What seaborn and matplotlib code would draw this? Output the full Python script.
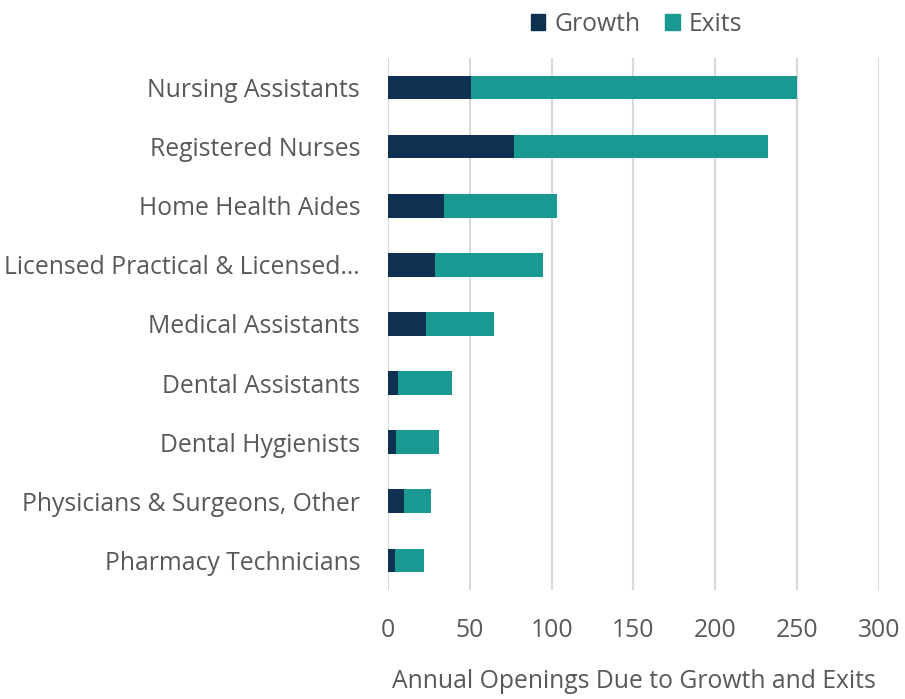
import pandas as pd
import seaborn as sns
import matplotlib.pyplot as plt
from matplotlib.patches import Patch

occupations = [
    "Nursing Assistants",
    "Registered Nurses",
    "Home Health Aides",
    "Licensed Practical & Licensed…",
    "Medical Assistants",
    "Dental Assistants",
    "Dental Hygienists",
    "Physicians & Surgeons, Other",
    "Pharmacy Technicians",
]
growth = [51, 77, 34, 29, 23, 6, 5, 10, 4]
exits = [199, 155, 69, 66, 42, 33, 26, 16, 18]

df = pd.DataFrame({"occupation": occupations, "growth": growth, "exits": exits})
df["total"] = df["growth"] + df["exits"]

c_growth = "#0E3151"
c_exits = "#1A9892"
txt = "#595959"
fs = 17.8

sns.set_style("white")
plt.rcParams["font.family"] = ["Open Sans", "DejaVu Sans"]

fig = plt.figure(figsize=(9.05, 6.99), dpi=100)
ax = fig.add_axes([0.4287, 0.156, 0.5425, 0.761])

# stacked: draw totals (exits colour) then growth on top
sns.barplot(data=df, y="occupation", x="total", color=c_exits, width=0.4,
            orient="h", ax=ax, saturation=1, zorder=3, linewidth=0)
sns.barplot(data=df, y="occupation", x="growth", color=c_growth, width=0.4,
            orient="h", ax=ax, saturation=1, zorder=4, linewidth=0)

ax.set_xlim(0, 300)
ax.set_xticks(range(0, 301, 50))
ax.grid(axis="x", color="#D9D9D9", linewidth=1.5, zorder=0)
for s in ax.spines.values():
    s.set_visible(False)

ax.tick_params(axis="y", length=0, pad=20, labelsize=fs, labelcolor=txt)
ax.tick_params(axis="x", length=5, width=1, color="#D9D9D9", pad=15,
               labelsize=fs, labelcolor=txt)
ax.set_ylabel("")
ax.set_xlabel("Annual Openings Due to Growth and Exits", fontsize=fs,
              color=txt, labelpad=19)

handles = [Patch(color=c_growth, label="Growth"), Patch(color=c_exits, label="Exits")]
fig.legend(handles=handles, loc="upper center", bbox_to_anchor=(0.703, 1.015),
           ncol=2, frameon=False, fontsize=fs, labelcolor=txt,
           handlelength=0.6, handleheight=0.6, handletextpad=0.35,
           columnspacing=1.0)

fig.savefig("out.png", dpi=100)
